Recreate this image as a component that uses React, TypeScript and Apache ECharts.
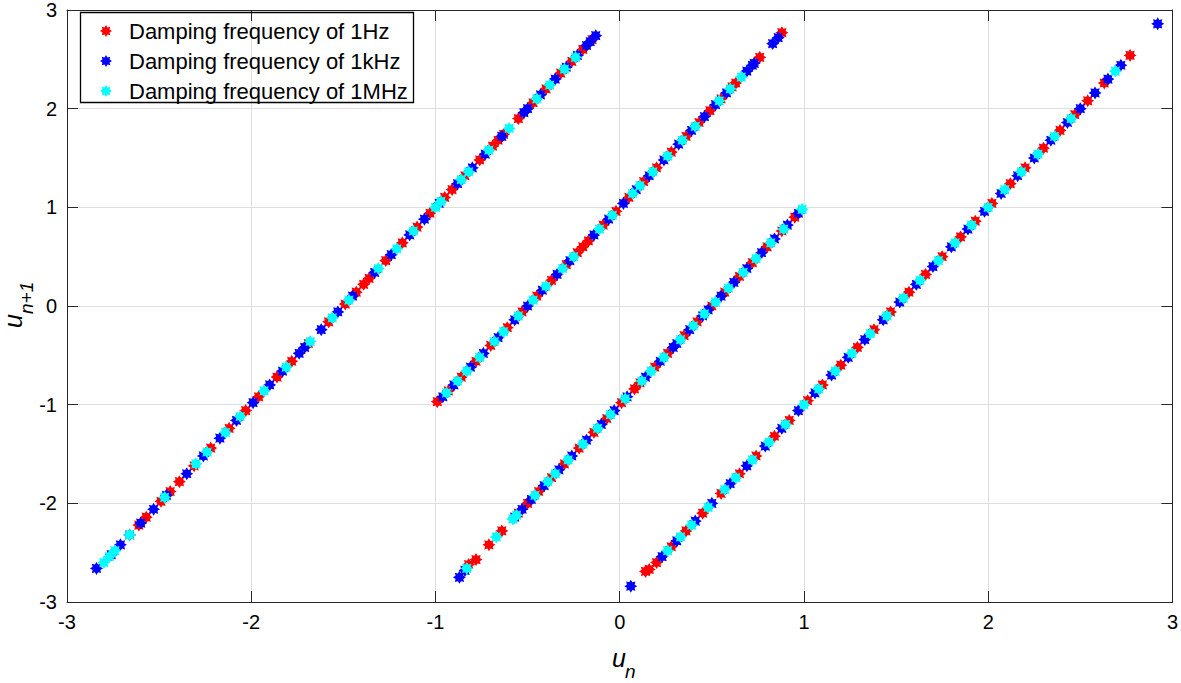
import React, { useEffect, useRef } from "react";
import * as echarts from "echarts";

// ---- data ----
const seriesNames = [
  "Damping frequency of 1Hz",
  "Damping frequency of 1kHz",
  "Damping frequency of 1MHz",
];
const seriesColors = ["#ff0000", "#0000ff", "#00ffff"];
const xTicks = [-3, -2, -1, 0, 1, 2, 3];
const yTicks = [-3, -2, -1, 0, 1, 2, 3];

const red1Hz: [number, number][] = [
  // branch 1
  [-2.61, -2.22], [-2.57, -2.14], [-2.49, -1.98], [-2.44, -1.88], [-2.39, -1.78],
  [-2.31, -1.62], [-2.22, -1.44], [-2.12, -1.24], [-2.03, -1.06], [-1.96, -0.92],
  [-1.86, -0.72], [-1.78, -0.56], [-1.69, -0.38], [-1.58, -0.16], [-1.49, 0.02],
  [-1.43, 0.14], [-1.39, 0.22], [-1.36, 0.28], [-1.27, 0.46], [-1.18, 0.64],
  [-1.1, 0.8], [-1.03, 0.94], [-0.95, 1.1], [-0.91, 1.18], [-0.84, 1.32],
  [-0.76, 1.48], [-0.69, 1.62], [-0.66, 1.68], [-0.63, 1.74], [-0.55, 1.9],
  [-0.47, 2.06], [-0.4, 2.2], [-0.32, 2.36], [-0.26, 2.48], [-0.2, 2.6], [-0.15, 2.7],
  // branch 2
  [-0.99, -0.97], [-0.93, -0.86], [-0.86, -0.72], [-0.78, -0.56], [-0.7, -0.4],
  [-0.61, -0.22], [-0.53, -0.06], [-0.45, 0.1], [-0.37, 0.26], [-0.29, 0.42],
  [-0.23, 0.54], [-0.2, 0.6], [-0.17, 0.66], [-0.09, 0.82], [-0.02, 0.96],
  [0.05, 1.1], [0.13, 1.26], [0.2, 1.4], [0.28, 1.56], [0.36, 1.72],
  [0.43, 1.86], [0.49, 1.98], [0.55, 2.1], [0.61, 2.22], [0.63, 2.26],
  [0.76, 2.52], [0.88, 2.77],
  // branch 3
  [-0.82, -2.62], [-0.78, -2.57], [-0.71, -2.42], [-0.64, -2.28], [-0.55, -2.1],
  [-0.5, -2.0], [-0.44, -1.88], [-0.37, -1.74], [-0.3, -1.6], [-0.22, -1.44],
  [-0.14, -1.28], [-0.07, -1.14], [0.01, -0.98], [0.08, -0.84], [0.11, -0.78],
  [0.19, -0.62], [0.26, -0.48], [0.35, -0.3], [0.42, -0.16], [0.5, 0.0],
  [0.57, 0.14], [0.65, 0.3], [0.72, 0.44], [0.8, 0.6], [0.88, 0.76], [0.95, 0.9],
  // branch 4
  [0.14, -2.69], [0.16, -2.67], [0.2, -2.6], [0.28, -2.44], [0.36, -2.28],
  [0.45, -2.1], [0.55, -1.9], [0.65, -1.7], [0.74, -1.52], [0.84, -1.32],
  [0.92, -1.16], [1.02, -0.96], [1.1, -0.8], [1.2, -0.6], [1.29, -0.42],
  [1.38, -0.24], [1.47, -0.06], [1.57, 0.14], [1.66, 0.32], [1.75, 0.5],
  [1.85, 0.7], [1.93, 0.86], [2.02, 1.04], [2.12, 1.24], [2.2, 1.4],
  [2.3, 1.6], [2.39, 1.78], [2.47, 1.94], [2.54, 2.08], [2.63, 2.26], [2.77, 2.54],
];

const blue1kHz: [number, number][] = [
  // branch 1
  [-2.84, -2.66], [-2.76, -2.52], [-2.71, -2.42], [-2.66, -2.32], [-2.6, -2.2],
  [-2.53, -2.06], [-2.46, -1.92], [-2.35, -1.7], [-2.26, -1.52], [-2.17, -1.34],
  [-2.08, -1.16], [-1.99, -0.98], [-1.9, -0.8], [-1.83, -0.66], [-1.74, -0.48],
  [-1.71, -0.42], [-1.62, -0.24], [-1.53, -0.06], [-1.45, 0.1], [-1.33, 0.34],
  [-1.24, 0.52], [-1.14, 0.72], [-1.06, 0.88], [-0.98, 1.04], [-0.88, 1.24],
  [-0.8, 1.4], [-0.73, 1.54], [-0.64, 1.72], [-0.52, 1.96], [-0.5, 2.0],
  [-0.43, 2.14], [-0.35, 2.3], [-0.29, 2.42], [-0.23, 2.54], [-0.18, 2.64],
  [-0.16, 2.68], [-0.13, 2.74],
  // branch 2
  [-0.96, -0.92], [-0.9, -0.8], [-0.81, -0.62], [-0.74, -0.48], [-0.66, -0.32],
  [-0.57, -0.14], [-0.5, 0.0], [-0.42, 0.16], [-0.34, 0.32], [-0.27, 0.46],
  [-0.14, 0.72], [-0.06, 0.88], [0.02, 1.04], [0.09, 1.18], [0.16, 1.32],
  [0.24, 1.48], [0.32, 1.64], [0.39, 1.78], [0.46, 1.92], [0.52, 2.04],
  [0.58, 2.16], [0.69, 2.38], [0.72, 2.44], [0.73, 2.46], [0.83, 2.66], [0.86, 2.72],
  // branch 3
  [-0.87, -2.75], [-0.84, -2.68], [-0.57, -2.14], [-0.53, -2.06], [-0.48, -1.96],
  [-0.41, -1.82], [-0.33, -1.66], [-0.26, -1.52], [-0.18, -1.36], [-0.1, -1.2],
  [-0.03, -1.06], [0.04, -0.92], [0.14, -0.72], [0.22, -0.56], [0.29, -0.42],
  [0.31, -0.38], [0.38, -0.24], [0.45, -0.1], [0.48, -0.04], [0.55, 0.1],
  [0.62, 0.24], [0.69, 0.38], [0.77, 0.54], [0.84, 0.68], [0.91, 0.82], [0.97, 0.94],
  // branch 4
  [0.06, -2.84], [0.23, -2.54], [0.31, -2.38], [0.41, -2.18], [0.5, -2.0],
  [0.6, -1.8], [0.69, -1.62], [0.79, -1.42], [0.88, -1.24], [0.97, -1.06],
  [1.06, -0.88], [1.15, -0.7], [1.24, -0.52], [1.33, -0.34], [1.43, -0.14],
  [1.52, 0.04], [1.61, 0.22], [1.7, 0.4], [1.8, 0.6], [1.89, 0.78],
  [1.98, 0.96], [2.07, 1.14], [2.16, 1.32], [2.25, 1.5], [2.34, 1.68],
  [2.43, 1.86], [2.5, 2.0], [2.58, 2.16], [2.65, 2.3], [2.72, 2.44], [2.92, 2.86],
];

const cyan1MHz: [number, number][] = [
  // branch 1
  [-2.8, -2.6], [-2.77, -2.54], [-2.74, -2.48], [-2.66, -2.32], [-2.47, -1.94],
  [-2.3, -1.6], [-2.24, -1.48], [-2.14, -1.28], [-2.06, -1.12], [-1.93, -0.86],
  [-1.81, -0.62], [-1.68, -0.36], [-1.56, -0.12], [-1.47, 0.06], [-1.31, 0.38],
  [-1.21, 0.58], [-1.12, 0.76], [-1.0, 1.0], [-0.97, 1.06], [-0.86, 1.28],
  [-0.82, 1.36], [-0.71, 1.58], [-0.6, 1.8], [-0.45, 2.1], [-0.38, 2.24],
  [-0.3, 2.4], [-0.24, 2.52],
  // branch 2
  [-0.94, -0.88], [-0.88, -0.76], [-0.83, -0.66], [-0.76, -0.52], [-0.68, -0.36],
  [-0.63, -0.26], [-0.55, -0.1], [-0.47, 0.06], [-0.4, 0.2], [-0.31, 0.38],
  [-0.25, 0.5], [-0.11, 0.78], [-0.04, 0.92], [0.07, 1.14], [0.11, 1.22],
  [0.18, 1.36], [0.26, 1.52], [0.34, 1.68], [0.41, 1.82], [0.54, 2.08],
  [0.6, 2.2], [0.66, 2.32],
  // branch 3
  [-0.83, -2.66], [-0.67, -2.34], [-0.58, -2.16], [-0.56, -2.12], [-0.46, -1.92],
  [-0.39, -1.78], [-0.35, -1.7], [-0.28, -1.56], [-0.2, -1.4], [-0.12, -1.24],
  [-0.05, -1.1], [0.03, -0.94], [0.12, -0.76], [0.17, -0.66], [0.24, -0.52],
  [0.33, -0.34], [0.4, -0.2], [0.46, -0.08], [0.52, 0.04], [0.59, 0.18],
  [0.67, 0.34], [0.74, 0.48], [0.82, 0.64], [0.89, 0.78], [0.99, 0.98],
  // branch 4
  [0.26, -2.48], [0.33, -2.34], [0.39, -2.22], [0.48, -2.04], [0.57, -1.86],
  [0.63, -1.74], [0.72, -1.56], [0.81, -1.38], [0.9, -1.2], [1.0, -1.0],
  [1.08, -0.84], [1.17, -0.66], [1.26, -0.48], [1.36, -0.28], [1.45, -0.1],
  [1.54, 0.08], [1.63, 0.26], [1.73, 0.46], [1.82, 0.64], [1.91, 0.82],
  [2.0, 1.0], [2.09, 1.18], [2.18, 1.36], [2.27, 1.54], [2.36, 1.72],
  [2.45, 1.9], [2.69, 2.38],
];

const seriesData = [red1Hz, blue1kHz, cyan1MHz];

// chunky asterisk-like marker (MATLAB '*')
const STAR =
  "path://M10 5 L7.96 3.78 L8.54 1.46 L6.22 2.04 L5 0 L3.78 2.04 L1.46 1.46 L2.04 3.78 L0 5 L2.04 6.22 L1.46 8.54 L3.78 7.96 L5 10 L6.22 7.96 L8.54 8.54 L7.96 6.22 Z";

const FONT = "'Liberation Sans', Arial, Helvetica, sans-serif";
const AXIS_COLOR = "#262626";

export default function App() {
  const ref = useRef<HTMLDivElement>(null);
  useEffect(() => {
    document.body.style.margin = "0";
    if (!ref.current) return;
    const chart = echarts.init(ref.current, undefined, { renderer: "svg" });
    const lineStyle = { color: AXIS_COLOR, width: 1 };
    const tick = { show: true, inside: true, length: 11, lineStyle: { color: AXIS_COLOR } };
    chart.setOption({
      animation: false,
      backgroundColor: "#ffffff",
      grid: { left: 67, right: 6, top: 8, bottom: 81, containLabel: false },
      xAxis: [
        {
          type: "value",
          min: xTicks[0],
          max: xTicks[xTicks.length - 1],
          interval: 1,
          position: "bottom",
          axisLine: { show: true, onZero: false, lineStyle },
          axisTick: tick,
          axisLabel: { color: "#000", fontSize: 20, fontFamily: FONT, margin: 10 },
          splitLine: { show: true, lineStyle: { color: "#dedede", width: 1 } },
        },
        {
          type: "value",
          min: xTicks[0],
          max: xTicks[xTicks.length - 1],
          interval: 1,
          position: "top",
          axisLine: { show: true, onZero: false, lineStyle },
          axisTick: tick,
          axisLabel: { show: false },
          splitLine: { show: false },
        },
      ],
      yAxis: [
        {
          type: "value",
          min: yTicks[0],
          max: yTicks[yTicks.length - 1],
          interval: 1,
          position: "left",
          axisLine: { show: true, onZero: false, lineStyle },
          axisTick: tick,
          axisLabel: { color: "#000", fontSize: 20, fontFamily: FONT, margin: 10 },
          splitLine: { show: true, lineStyle: { color: "#dedede", width: 1 } },
        },
        {
          type: "value",
          min: yTicks[0],
          max: yTicks[yTicks.length - 1],
          interval: 1,
          position: "right",
          axisLine: { show: true, onZero: false, lineStyle },
          axisTick: tick,
          axisLabel: { show: false },
          splitLine: { show: false },
        },
      ],
      legend: {
        orient: "vertical",
        left: 100,
        top: 20,
        padding: 0,
        itemWidth: 12,
        itemHeight: 12,
        itemGap: 8,
        icon: STAR,
        textStyle: {
          color: "#000",
          fontSize: 22,
          fontFamily: FONT,
          lineHeight: 20,
          padding: [0, 0, 0, 12],
        },
        data: seriesNames,
      },
      graphic: [
        {
          type: "rect",
          shape: { x: 80.5, y: 12.5, width: 333, height: 90 },
          style: { fill: "none", stroke: "#000", lineWidth: 1.3 },
          z: 10,
        },
        {
          type: "group",
          x: 612,
          y: 645,
          children: [
            { type: "text", x: 0, y: 0, style: { text: "u", font: `italic 25px ${FONT}`, fill: "#000" } },
            { type: "text", x: 13, y: 17, style: { text: "n", font: `italic 19px ${FONT}`, fill: "#000" } },
          ],
        },
        {
          type: "group",
          x: 0,
          y: 328,
          rotation: Math.PI / 2,
          children: [
            { type: "text", x: 0, y: 0, style: { text: "u", font: `italic 25px ${FONT}`, fill: "#000" } },
            { type: "text", x: 14, y: 17, style: { text: "n+1", font: `italic 19px ${FONT}`, fill: "#000" } },
          ],
        },
      ],
      series: seriesNames.map((name, i) => ({
        name,
        type: "scatter",
        xAxisIndex: 0,
        yAxisIndex: 0,
        symbol: STAR,
        symbolSize: 13,
        itemStyle: { color: seriesColors[i], opacity: 1 },
        emphasis: { disabled: true },
        data: seriesData[i],
        z: 2 + i,
      })),
    });
    return () => chart.dispose();
  }, []);
  return <div ref={ref} style={{ width: 1181, height: 683 }} />;
}
